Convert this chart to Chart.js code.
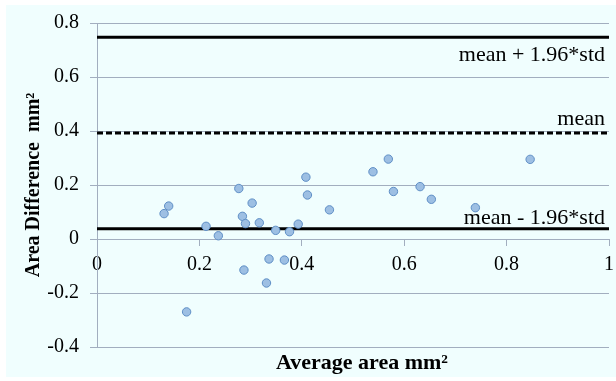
<!DOCTYPE html>
<html><head><meta charset="utf-8">
<script src="https://cdn.jsdelivr.net/npm/chart.js@4/dist/chart.umd.min.js"></script>
<style>html,body{margin:0;padding:0;background:#fff;}#wrap{width:616px;height:381px;}</style>
</head><body><div id="wrap"><canvas id="c" width="616" height="381"></canvas></div>
<script>
// ---- data ----
const avgArea  = [0.131,0.140,0.175,0.213,0.237,0.277,0.284,0.287,0.290,0.303,0.317,0.331,0.336,0.349,0.366,0.376,0.393,0.408,0.411,0.454,0.539,0.569,0.579,0.631,0.653,0.739,0.846];
const areaDiff = [0.094,0.122,-0.270,0.047,0.012,0.187,0.084,-0.115,0.057,0.133,0.060,-0.163,-0.074,0.032,-0.078,0.027,0.055,0.229,0.163,0.108,0.249,0.296,0.176,0.194,0.147,0.116,0.295];
const limitLabels = ['mean + 1.96*std','mean','mean - 1.96*std'];
const limitValues = [0.747,0.393,0.038];
const limitDashed = [false,true,false];
const xTicks = [0,0.2,0.4,0.6,0.8,1];
const yTicks = [-0.4,-0.2,0,0.2,0.4,0.6,0.8];
const xTitle = 'Average area mm\u00B2';
const yTitle = 'Area Difference  mm\u00B2';

const FAM = '"Liberation Serif", "Times New Roman", serif';
const gridColor = '#A2AEBF';
const fmt = v => String(Math.round(v*10)/10);

const points = avgArea.map((x,i)=>({x, y: areaDiff[i]}));
const limitSets = limitValues.map((v,i)=>({
  type:'line', label: limitLabels[i],
  data: [{x: xTicks[0], y: v},{x: xTicks[xTicks.length-1], y: v}],
  borderColor:'#000', borderWidth:3, borderDash: limitDashed[i] ? [6,3] : [],
  pointRadius:0, fill:false, tension:0
}));

const bgPlugin = {
  id:'bg',
  beforeDraw(chart){
    const ctx = chart.ctx;
    ctx.save();
    ctx.fillStyle = '#fff';
    ctx.fillRect(0,0,chart.width,chart.height);
    ctx.fillStyle = '#F0FEFE';
    ctx.fillRect(6,5,chart.width-6,372);
    ctx.restore();
  }
};
const textPlugin = {
  id:'texts',
  afterDraw(chart){
    const ctx = chart.ctx, ys = chart.scales.y, area = chart.chartArea;
    ctx.save();
    ctx.fillStyle = '#000';
    ctx.font = '22px ' + FAM;
    ctx.textAlign = 'right';
    ctx.textBaseline = 'alphabetic';
    const offs = [24, -8, -5];
    limitValues.forEach((v,i)=>{
      ctx.fillText(limitLabels[i], area.right - 4, ys.getPixelForValue(v) + offs[i]);
    });
    ctx.font = 'bold 22px ' + FAM;
    ctx.textAlign = 'center';
    ctx.fillText(xTitle, (area.left+area.right)/2 + 9, 369);
    ctx.restore();
  }
};

new Chart(document.getElementById('c'), {
  type:'scatter',
  data:{ datasets:[
    { type:'scatter', label:'diff', data: points, backgroundColor:'#9DBFE3', borderColor:'#5F8FC6', borderWidth:1, pointRadius:4.2 },
    ...limitSets
  ]},
  options:{
    responsive:false, animation:false,
    layout:{padding:{left:0,right:7,top:23,bottom:34}},
    plugins:{legend:{display:false}, tooltip:{enabled:false}},
    scales:{
      x:{ type:'linear', position:{y:0}, min:0, max:1,
        afterBuildTicks: s => { s.ticks = xTicks.map(v=>({value:v})); },
        afterFit: s => { s.paddingLeft = 0; s.paddingRight = 0; },
        grid:{drawOnChartArea:false, drawTicks:true, tickLength:6, color:gridColor},
        border:{display:true, color:gridColor, width:1},
        ticks:{font:{family:FAM,size:20}, color:'#000', padding:8, maxRotation:0, autoSkip:false, callback: fmt}
      },
      y:{ type:'linear', min:-0.4, max:0.8,
        afterBuildTicks: s => { s.ticks = yTicks.map(v=>({value:v})); },
        afterFit: s => { s.width = 97; },
        grid:{color:gridColor, tickLength:7, drawTicks:true},
        border:{display:true, color:gridColor, width:1},
        ticks:{font:{family:FAM,size:20}, color:'#000', padding:11, callback: fmt},
        title:{display:true, text:yTitle, font:{family:FAM,size:20,weight:'bold'}, color:'#000', padding:{top:22,bottom:0}}
      }
    }
  },
  plugins:[bgPlugin, textPlugin]
});
</script></body></html>
